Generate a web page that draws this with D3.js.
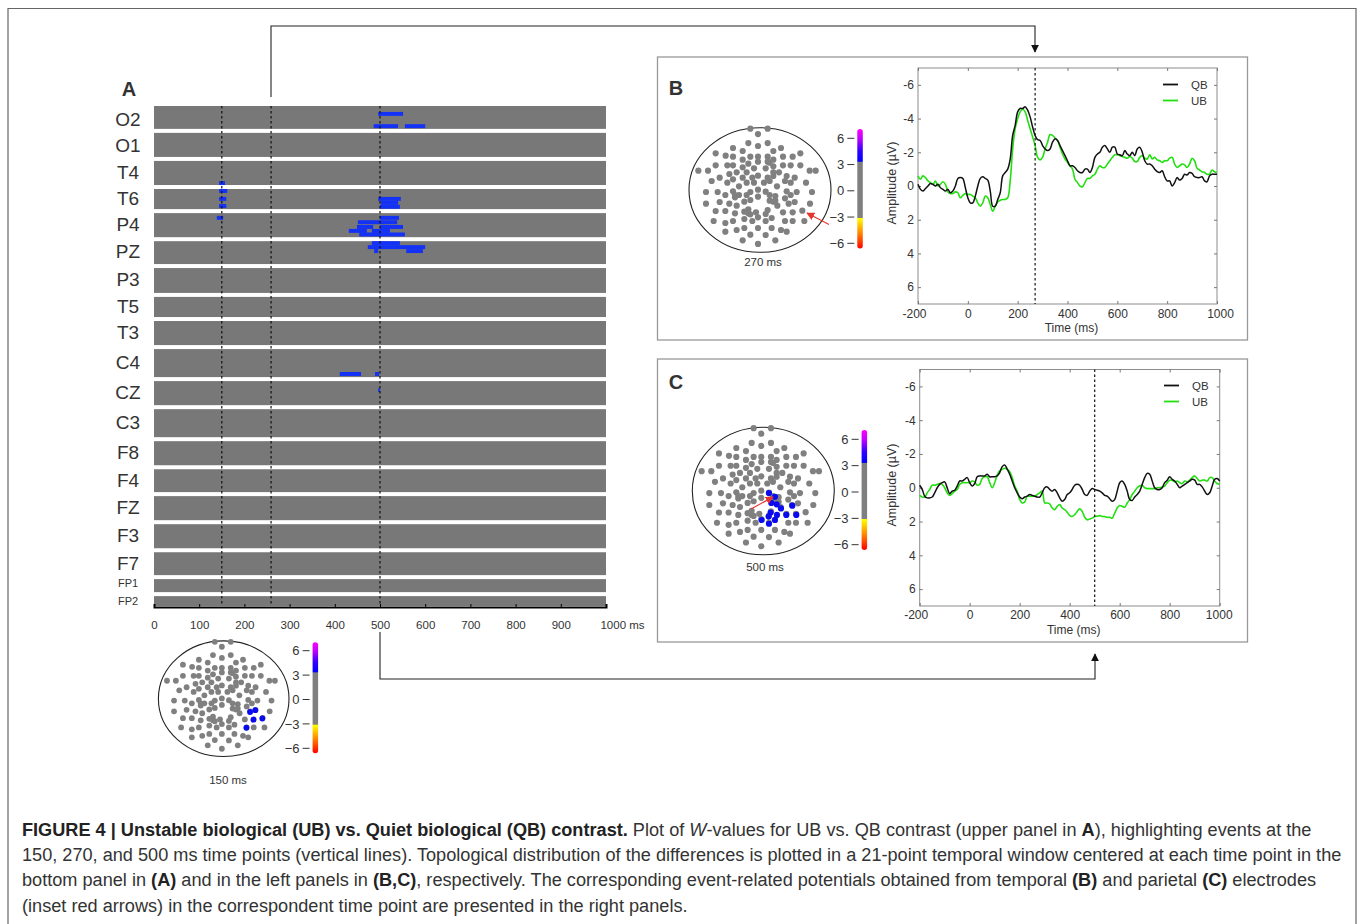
<!DOCTYPE html>
<html>
<head>
<meta charset="utf-8">
<script src="https://cdn.jsdelivr.net/npm/d3@7"></script>
<style>
  html, body { margin: 0; padding: 0; background: #fff; }
  svg { display: block; }
  text { font-family: "Liberation Sans", Arial, sans-serif; fill: #333; }
</style>
</head>
<body>
<script>
// panel A: channels and how many sensor slots each one covers
var channels = ['O2','O1','T4','T6','P4','PZ','P3','T5','T3','C4','CZ','C3','F8','F4','FZ','F3','F7','FP1','FP2'];
var channelSlots = [6.8,7.1,7.1,6.1,7.1,6.8,7.3,6.1,7.1,8.1,7.1,8.1,7.1,6.8,7.1,7.1,6.8,4.3,2.5];
var timeTicks = [0,100,200,300,400,500,600,700,800,900,1000];
var eventTimes = [150,259,500];

// significant W-value runs: slot (counted from the top), start ms, end ms
var significantRuns = [
    [1.5,496,551],[4.6,486,540],[4.6,555,600],
    [19,144,157],[21,144,162],[23,144,160],[24.8,144,160],[27.8,139,153],
    [23,496,546],[24,502,540],[25,500,544],
    [27.8,500,542],[28.9,451,538],[30.1,449,485],[30.1,500,551],
    [31.1,431,471],[31.1,482,522],[32,454,555],
    [34.2,482,544],[35.2,473,600],[36.2,487,496],[36.2,558,595],
    [67.3,411,458],[67.3,489,498],[71.4,496,500]
];

// ERP traces, sampled every 10 ms from -200 to 1000
var erpTimes = d3.range(-200, 1001, 10);
var qbTemporal = [-0.1,0.2,0.3,0.15,0,-0.15,-0.1,0,-0.1,0.1,0.2,0.3,0.2,0.4,0.3,0,-0.45,-0.5,-0.45,0.1,0.7,1,1,0.6,0,-0.45,-0.55,-0.45,-0.35,0.3,1.2,1.2,0.8,0.4,-0.6,-0.8,-1,-1.6,-3,-3.6,-4.4,-4.6,-4.6,-4.7,-4.5,-4.1,-3.5,-3,-2.75,-2.7,-2.4,-2.2,-2.1,-2.2,-2.6,-2.8,-2.7,-2.4,-2.1,-1.8,-1.5,-1.2,-1.2,-1.1,-0.9,-0.8,-0.8,-1,-1,-0.8,-1.1,-1.7,-1.9,-2,-2.3,-2.4,-2.2,-2,-2.3,-2.3,-1.9,-1.85,-1.8,-2.1,-1.9,-1.8,-2,-1.8,-2.2,-2.3,-2,-1.5,-1.3,-1.3,-1.2,-1,-0.85,-0.8,-0.9,-0.55,-0.3,-0.3,0,-0.2,-0.5,-0.35,-0.45,-0.7,-0.65,-0.8,-0.75,-0.55,-0.5,-0.5,-0.55,-0.3,-0.25,-0.6,-0.7,-0.7,-0.7];
var ubTemporal = [-0.6,-0.4,-0.6,-0.5,-0.3,-0.2,-0.1,-0.3,0,-0.1,-0.25,-0.1,0.35,0.45,0.45,0.35,0.4,0.7,0.55,0.45,0.5,0.5,0.6,0.7,1,1.2,1,0.6,0.7,1.1,1.5,1.2,0.95,0.85,0.8,0.8,0.7,-0.3,-2.2,-3.4,-4,-4.4,-4.55,-4.4,-3.9,-3.4,-2.9,-2.4,-1.7,-1.55,-1.7,-2.2,-2.6,-3.05,-3,-2.85,-2.7,-2.3,-1.9,-1.6,-1.4,-1.2,-1,-0.4,-0.2,0,0.05,-0.2,-0.45,-0.45,-0.6,-0.7,-1,-1.2,-1.1,-1.1,-1.3,-1.5,-1.7,-1.85,-1.85,-1.8,-1.75,-1.7,-1.65,-1.75,-1.65,-1.45,-1.45,-1.7,-1.8,-1.65,-1.6,-1.85,-1.6,-1.7,-1.55,-1.5,-1.4,-1.5,-1.5,-1.65,-1.7,-1.3,-1.1,-1.2,-1.3,-1.25,-1.1,-1.3,-1.65,-1.5,-1.05,-0.95,-0.85,-0.8,-0.7,-0.7,-0.95,-0.85,-0.8];
var qbParietal = [-0.15,0.1,0.5,0.6,0.6,0.55,0.3,0,-0.2,-0.3,-0.35,0,0.35,0.2,0.15,-0.1,-0.4,-0.4,-0.5,-0.6,-0.3,-0.1,-0.25,-0.65,-0.7,-0.7,-0.7,-0.8,-0.65,-0.65,-0.65,-0.7,-0.9,-1.25,-1.35,-1.1,-0.8,-0.4,0,0.3,0.55,0.65,0.55,0.5,0.4,0.45,0.5,0.55,0.55,0.3,0,-0.05,0.1,0.2,0.1,0.3,0.6,0.8,0.7,0.4,0.3,0.1,-0.15,-0.2,-0.15,0.1,0.4,0.45,0.2,0.05,0.1,0.15,0.2,0.3,0.45,0.5,0.65,0.8,0.7,0.2,-0.3,-0.4,-0.2,0.2,0.7,0.75,0.55,0.4,0.2,-0.2,-0.6,-0.85,-0.8,-0.4,0,0.1,0.1,0,-0.3,-0.45,-0.65,-0.5,-0.4,-0.2,0,-0.1,-0.2,-0.3,-0.4,-0.5,-0.45,-0.2,-0.2,-0.05,0.2,0.4,0.3,-0.1,-0.5,-0.55,-0.4];
var ubParietal = [0.45,0.55,0.55,0.3,0.1,-0.15,-0.15,-0.2,-0.25,-0.2,0,0.3,0.45,0.35,0.2,0.1,-0.2,-0.3,-0.3,-0.3,-0.3,-0.4,-0.35,-0.15,-0.2,-0.55,-0.65,-0.65,-0.3,0,-0.3,-0.75,-1,-1.1,-1.15,-1.1,-0.95,-0.6,-0.1,0.2,0.7,0.9,0.85,0.5,0.5,0.5,0.5,0.4,0.3,0.2,0.9,0.9,0.95,1.2,1.3,1.1,1,1.2,1.3,1.45,1.65,1.7,1.6,1.4,1.25,1.4,1.75,1.9,1.85,1.8,1.7,1.68,1.65,1.7,1.7,1.75,1.75,1.8,1.5,1.2,1.05,1.1,1.15,0.9,0.7,0.4,0.2,0,-0.1,-0.15,0,0.05,0.05,0.05,0.05,0,0,-0.05,-0.1,-0.3,-0.45,-0.45,-0.35,-0.4,-0.3,-0.25,-0.4,-0.35,-0.45,-0.6,-0.7,-0.55,-0.4,-0.45,-0.45,-0.4,-0.6,-0.6,-0.4,-0.25,-0.2];

var erpXTicks = [-200,0,200,400,600,800,1000];
var erpYTicks = [-6,-4,-2,0,2,4,6];
var colorbarTicks = [6,3,0,-3,-6];

var sensors = [[241,41],[293,41],[264,57],[235,84],[293,84],[264,93],[189,99],[218,108],[310,108],[333,99],
    [137,115],[167,122],[189,125],[218,134],[241,125],[264,125],[293,125],[310,134],[339,125],[368,125],[391,115],
    [137,151],[172,151],[189,151],[218,157],[235,146],[264,140],[293,140],[299,143],[310,154],[339,151],[362,151],[391,151],
    [85,167],[114,167],[200,172],[230,172],[252,160],[287,160],[310,172],[327,172],[419,167],[437,167],
    [178,177],[149,188],[125,198],[189,193],[218,188],[247,188],[264,182],[293,188],[310,183],[350,183],[374,188],[408,203],
    [172,203],[230,203],[252,203],[282,203],[299,198],[345,198],[362,203],[207,214],[321,214],
    [108,231],[143,231],[166,240],[189,229],[195,240],[207,240],[241,231],[230,240],[264,224],[287,230],[299,240],[316,243],[350,229],[362,240],[380,231],[426,231],[345,250],
    [264,245],[195,247],[223,260],[241,255],[299,257],[316,257],[149,261],[178,266],[108,266],[200,272],[310,260],[356,266],[374,261],[322,272],[420,266],
    [235,283],[137,288],[166,288],[223,290],[195,295],[241,298],[235,295],[258,292],[293,285],[287,297],[339,292],[368,292],[397,287],
    [131,318],[166,324],[189,318],[223,312],[247,318],[264,307],[287,318],[305,309],[345,318],[368,318],[403,318],
    [200,345],[223,339],[264,339],[241,359],[305,339],[166,350],[287,360],[333,345],[350,350],
    [218,376],[264,387],[316,376]];
var activeAt150 = [[356,268],[373,262],[367,293],[396,289],[344,319]];
var activeAt500 = [[287,231],[305,242],[294,260],[310,264],[323,276],[357,268],[292,288],[311,295],[286,300],[339,295],[369,295],[305,310],[265,310],[287,321]];

var captionLines = [
    [['FIGURE 4 | Unstable biological (UB) vs. Quiet biological (QB) contrast.','b'],[' Plot of ',''],['W','i'],['-values for UB vs. QB contrast (upper panel in ',''],['A','b'],['), highlighting events at the','']],
    [['150, 270, and 500 ms time points (vertical lines). Topological distribution of the differences is plotted in a 21-point temporal window centered at each time point in the','']],
    [['bottom panel in ',''],['(A)','b'],[' and in the left panels in ',''],['(B,C)','b'],[', respectively. The corresponding event-related potentials obtained from temporal ',''],['(B)','b'],[' and parietal ',''],['(C)','b'],[' electrodes','']],
    [['(inset red arrows) in the correspondent time point are presented in the right panels.','']]
];

var width = 1358;
var height = 924;

var svg = d3.select('body').append('svg')
    .attr('width', width)
    .attr('height', height);

var defs = svg.append('defs');
defs.append('marker').attr('id', 'arrowBlack')
    .attr('viewBox', '0 0 10 10').attr('refX', 9).attr('refY', 5)
    .attr('markerUnits', 'userSpaceOnUse').attr('markerWidth', 8).attr('markerHeight', 8).attr('orient', 'auto')
    .append('path').attr('d', 'M0,0L10,5L0,10Z').attr('fill', '#111');
defs.append('marker').attr('id', 'arrowRed')
    .attr('viewBox', '0 0 10 10').attr('refX', 9).attr('refY', 5)
    .attr('markerUnits', 'userSpaceOnUse').attr('markerWidth', 8).attr('markerHeight', 8).attr('orient', 'auto')
    .append('path').attr('d', 'M0,0L10,5L0,10Z').attr('fill', '#e8352c');

var barGradient = defs.append('linearGradient').attr('id', 'barGradient')
    .attr('x1', 0).attr('y1', 0).attr('x2', 0).attr('y2', 1);
[[0,'#ff00ff'],[0.08,'#c000ff'],[0.18,'#3000ff'],[0.27,'#0000ff'],[0.275,'#7f7f7f'],[0.74,'#7f7f7f'],[0.745,'#ffff00'],[0.86,'#ff9000'],[1,'#ff0000']]
    .forEach(function(s) {
        barGradient.append('stop').attr('offset', s[0]).attr('stop-color', s[1]);
    });

// outer figure frame, open at the bottom
svg.append('path')
    .attr('d', 'M8,924V8.5H1356V924')
    .attr('fill', 'none').attr('stroke', '#666').attr('stroke-width', 1.2);

// panel A -----------------------------------------------------------------
var xA = d3.scaleLinear().domain([0, 1000]).range([154, 606]);
var totalSlots = d3.sum(channelSlots);
var yA = d3.scaleLinear().domain([0, totalSlots]).range([106, 606]);
var slotStart = d3.cumsum([0].concat(channelSlots));

var rows = channels.map(function(name, i) {
    return {name: name, from: slotStart[i], to: slotStart[i + 1], last: i === channels.length - 1};
});

// the channel names do not sit quite centred on their rows
function labelNudge(name) {
    if (name === 'O2') return -0.5;
    if (name === 'O1') return -2;
    if (name === 'FP1') return -5;
    if (name === 'FP2') return 0;
    return -3;
}

var panelA = svg.append('g');

panelA.selectAll('.row')
    .data(rows)
    .enter().append('rect')
        .attr('class', 'row')
        .attr('x', xA(0))
        .attr('y', function(d) { return yA(d.from); })
        .attr('width', xA(1000) - xA(0))
        .attr('height', function(d) { return yA(d.to) - yA(d.from) - (d.last ? 0 : 4); })
        .attr('fill', '#787878');

panelA.selectAll('.run')
    .data(significantRuns)
    .enter().append('rect')
        .attr('class', 'run')
        .attr('x', function(d) { return xA(d[1]); })
        .attr('y', function(d) { return yA(d[0]); })
        .attr('width', function(d) { return xA(d[2]) - xA(d[1]); })
        .attr('height', yA(1) - yA(0))
        .attr('fill', '#1432f5');

panelA.selectAll('.channel')
    .data(rows)
    .enter().append('text')
        .attr('class', 'channel')
        .attr('x', 128)
        .attr('y', function(d) { return (yA(d.from) + yA(d.to)) / 2 + labelNudge(d.name); })
        .attr('dy', '0.36em')
        .attr('text-anchor', 'middle')
        .attr('font-size', function(d) { return d.name.length > 2 ? 11 : 19; })
        .text(function(d) { return d.name; });

panelA.selectAll('.eventLine')
    .data(eventTimes)
    .enter().append('line')
        .attr('class', 'eventLine')
        .attr('x1', function(d) { return xA(d); })
        .attr('x2', function(d) { return xA(d); })
        .attr('y1', 106).attr('y2', 606)
        .attr('stroke', '#111').attr('stroke-width', 1.2).attr('stroke-dasharray', '2.5,2.5');

var axisA = d3.axisBottom(xA).tickValues(timeTicks).tickSize(-3).tickPadding(14)
    .tickFormat(function(d) { return d === 1000 ? '1000 ms' : d; });
var axisAg = panelA.append('g')
    .attr('transform', 'translate(0,607)')
    .call(axisA);
axisAg.select('.domain').attr('stroke', '#000').attr('stroke-width', 2);
axisAg.selectAll('.tick line').attr('stroke', '#000');
axisAg.selectAll('.tick text').attr('font-size', 11.5).attr('font-family', '"Liberation Sans"').attr('fill', '#333');
axisAg.selectAll('.tick').filter(function(d) { return d === 1000; }).select('text').attr('dx', 16);

panelA.append('text').attr('x', 129).attr('y', 96).attr('text-anchor', 'middle')
    .attr('font-size', 20).attr('font-weight', 'bold').attr('fill', '#111').text('A');

// connectors between the panels
svg.append('path')
    .attr('d', 'M271,97V26H1035V52')
    .attr('fill', 'none').attr('stroke', '#222').attr('stroke-width', 1.1)
    .attr('marker-end', 'url(#arrowBlack)');
svg.append('path')
    .attr('d', 'M380,632V679H1095V654')
    .attr('fill', 'none').attr('stroke', '#222').attr('stroke-width', 1.1)
    .attr('marker-end', 'url(#arrowBlack)');

// scalp map with its colour bar ---------------------------------------------
function drawTopo(opt) {
    var g = svg.append('g');
    var sx = d3.scaleLinear().domain([57, 483]).range([opt.cx - opt.rx, opt.cx + opt.rx]);
    var sy = d3.scaleLinear().domain([38, 412]).range([opt.cy - opt.ry, opt.cy + opt.ry]);

    g.append('ellipse')
        .attr('cx', opt.cx).attr('cy', opt.cy).attr('rx', opt.rx).attr('ry', opt.ry)
        .attr('fill', '#fff').attr('stroke', '#222').attr('stroke-width', 1.1);

    g.selectAll('.sensor')
        .data(sensors)
        .enter().append('circle')
            .attr('class', 'sensor')
            .attr('cx', function(d) { return sx(d[0]); })
            .attr('cy', function(d) { return sy(d[1]); })
            .attr('r', opt.r)
            .attr('fill', '#808080');

    g.selectAll('.active')
        .data(opt.active)
        .enter().append('circle')
            .attr('class', 'active')
            .attr('cx', function(d) { return sx(d[0]); })
            .attr('cy', function(d) { return sy(d[1]); })
            .attr('r', opt.r)
            .attr('fill', '#0a0af0');

    g.append('text').attr('x', opt.labelX).attr('y', opt.labelY).attr('dy', '0.36em')
        .attr('text-anchor', 'middle').attr('font-size', 11.5).text(opt.label);

    var bar = d3.scaleLinear().domain([6, -6]).range([opt.barY6, opt.barYm6]);
    g.append('rect')
        .attr('x', opt.barX).attr('width', 5.5)
        .attr('y', bar(7.05)).attr('height', bar(-6.6) - bar(7.05))
        .attr('rx', 2.7)
        .attr('fill', 'url(#barGradient)');

    var tick = g.selectAll('.barTick').data(colorbarTicks).enter().append('g').attr('class', 'barTick');
    tick.append('line')
        .attr('x1', opt.barX - 10).attr('x2', opt.barX - 3)
        .attr('y1', function(d) { return bar(d); })
        .attr('y2', function(d) { return bar(d); })
        .attr('stroke', '#333');
    tick.append('text')
        .attr('x', opt.barX - 13)
        .attr('y', function(d) { return bar(d); })
        .attr('dy', '0.36em')
        .attr('text-anchor', 'end')
        .attr('font-size', 13)
        .text(function(d) { return d < 0 ? '\u2212' + (-d) : d; });

    if (opt.arrow) {
        g.append('line')
            .attr('x1', opt.arrow[0]).attr('y1', opt.arrow[1])
            .attr('x2', opt.arrow[2]).attr('y2', opt.arrow[3])
            .attr('stroke', '#e8352c').attr('stroke-width', 1.1)
            .attr('marker-end', 'url(#arrowRed)');
    }
}

// ERP line plot -------------------------------------------------------------
function drawErp(opt) {
    var g = svg.append('g');
    var x = d3.scaleLinear().domain([-200, 1000]).range([opt.left, opt.right]);
    var y = d3.scaleLinear().domain([-7, 7]).range([opt.top, opt.bottom]);
    var line = d3.line()
        .x(function(d, i) { return x(erpTimes[i]); })
        .y(function(d) { return y(d); })
        .curve(d3.curveCatmullRom);

    g.append('rect')
        .attr('x', opt.frameX).attr('y', opt.frameY)
        .attr('width', 590).attr('height', 283)
        .attr('fill', '#fff').attr('stroke', '#999').attr('stroke-width', 1.3);

    g.append('rect')
        .attr('x', opt.left).attr('y', opt.top)
        .attr('width', opt.right - opt.left).attr('height', opt.bottom - opt.top)
        .attr('fill', 'none').attr('stroke', '#8c8c8c').attr('stroke-width', 1);

    var bottomAxis = g.append('g')
        .attr('transform', 'translate(0,' + opt.bottom + ')')
        .call(d3.axisBottom(x).tickValues(erpXTicks).tickSize(-3).tickPadding(opt.xPad).tickFormat(function(d) { return d; }));
    var topAxis = g.append('g')
        .attr('transform', 'translate(0,' + opt.top + ')')
        .call(d3.axisTop(x).tickValues(erpXTicks).tickSize(-3).tickFormat(''));
    var leftAxis = g.append('g')
        .attr('transform', 'translate(' + opt.left + ',0)')
        .call(d3.axisLeft(y).tickValues(erpYTicks).tickSize(-3).tickPadding(4).tickFormat(function(d) { return d; }));
    var rightAxis = g.append('g')
        .attr('transform', 'translate(' + opt.right + ',0)')
        .call(d3.axisRight(y).tickValues(erpYTicks).tickSize(-3).tickFormat(''));

    [bottomAxis, topAxis, leftAxis, rightAxis].forEach(function(a) {
        a.select('.domain').remove();
        a.selectAll('.tick line').attr('stroke', '#777');
        a.selectAll('.tick text').attr('font-size', 12).attr('font-family', '"Liberation Sans"').attr('fill', '#333');
    });
    bottomAxis.selectAll('.tick').filter(function(d) { return d === -200; }).select('text').attr('dx', -4);
    bottomAxis.selectAll('.tick').filter(function(d) { return d === 1000; }).select('text').attr('dx', opt.endDx);

    g.append('path').datum(opt.ub).attr('d', line)
        .attr('fill', 'none').attr('stroke', '#22e010').attr('stroke-width', 1.6);
    g.append('path').datum(opt.qb).attr('d', line)
        .attr('fill', 'none').attr('stroke', '#111').attr('stroke-width', 1.5);

    g.append('line')
        .attr('x1', x(opt.marker)).attr('x2', x(opt.marker))
        .attr('y1', opt.top).attr('y2', opt.bottom)
        .attr('stroke', '#111').attr('stroke-width', 1.2).attr('stroke-dasharray', '2.5,2.5');

    var legend = g.selectAll('.legend')
        .data([['QB', '#111', 0], ['UB', '#22e010', 16]])
        .enter().append('g').attr('class', 'legend');
    legend.append('line')
        .attr('x1', opt.legendX).attr('x2', opt.legendX + 15)
        .attr('y1', function(d) { return opt.legendY + d[2]; })
        .attr('y2', function(d) { return opt.legendY + d[2]; })
        .attr('stroke', function(d) { return d[1]; }).attr('stroke-width', 1.8);
    legend.append('text')
        .attr('x', opt.legendX + 28)
        .attr('y', function(d) { return opt.legendY + d[2]; })
        .attr('dy', '0.36em')
        .attr('font-size', 11.5)
        .text(function(d) { return d[0]; });

    g.append('text').attr('x', x(400) + 4).attr('y', opt.bottom + 24).attr('dy', '0.36em')
        .attr('text-anchor', 'middle').attr('font-size', 12).text('Time (ms)');
    g.append('text')
        .attr('transform', 'translate(891,' + opt.ampY + ') rotate(-90)')
        .attr('dy', '0.36em')
        .attr('text-anchor', 'middle').attr('font-size', 12.5).text('Amplitude (\u00b5V)');
    g.append('text').attr('x', 676).attr('y', opt.letterY).attr('text-anchor', 'middle')
        .attr('font-size', 20).attr('font-weight', 'bold').attr('fill', '#111').text(opt.letter);
}

drawErp({frameX: 657.5, frameY: 57, left: 918, right: 1217, top: 68, bottom: 304, marker: 270, xPad: 5, endDx: 3,
    qb: qbTemporal, ub: ubTemporal, legendX: 1163, legendY: 84.5, ampY: 183, letter: 'B', letterY: 95});
drawErp({frameX: 657.5, frameY: 359, left: 919.7, right: 1219.7, top: 369.5, bottom: 606, marker: 500, xPad: 4, endDx: -1,
    qb: qbParietal, ub: ubParietal, legendX: 1164, legendY: 385.5, ampY: 485, letter: 'C', letterY: 389});

drawTopo({cx: 760, cy: 190, rx: 71, ry: 62.3, r: 3.1, active: [], label: '270 ms', labelX: 763, labelY: 262,
    barX: 857.3, barY6: 138.3, barYm6: 243.3, arrow: [829, 224.5, 807, 213]});
drawTopo({cx: 763.3, cy: 491, rx: 71, ry: 63.8, r: 3.1, active: activeAt500, label: '500 ms', labelX: 765, labelY: 567,
    barX: 861.6, barY6: 439.3, barYm6: 544.7, arrow: [751, 509, 773, 497]});
drawTopo({cx: 223.7, cy: 698.7, rx: 65.3, ry: 57.8, r: 2.9, active: activeAt150, label: '150 ms', labelX: 228, labelY: 780,
    barX: 312.6, barY6: 650.7, barYm6: 748.3});

// caption
var caption = svg.append('g');
captionLines.forEach(function(parts, i) {
    var t = caption.append('text')
        .attr('x', 22)
        .attr('y', 835.5 + i * 25.4)
        .attr('font-size', 18.15);
    parts.forEach(function(p) {
        t.append('tspan')
            .attr('font-weight', p[1] === 'b' ? 'bold' : 'normal')
            .attr('font-style', p[1] === 'i' ? 'italic' : 'normal')
            .attr('fill', p[1] === 'b' ? '#222' : '#333')
            .text(p[0]);
    });
});
</script>
</body>
</html>
